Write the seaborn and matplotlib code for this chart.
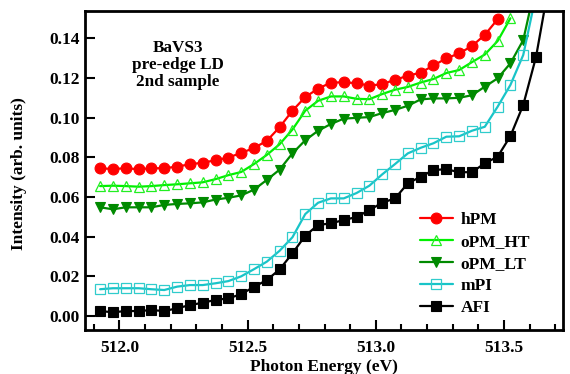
import matplotlib
matplotlib.use("Agg")
import matplotlib.pyplot as plt
import seaborn as sns
from matplotlib.ticker import MultipleLocator, FormatStrFormatter

# Photon energies (eV) of the measured points
energy = [511.925, 511.975, 512.025, 512.075, 512.125, 512.175, 512.225, 512.275,
          512.325, 512.375, 512.425, 512.475, 512.525, 512.575, 512.625, 512.675,
          512.725, 512.775, 512.825, 512.875, 512.925, 512.975, 513.025, 513.075,
          513.125, 513.175, 513.225, 513.275, 513.325, 513.375, 513.425, 513.475,
          513.525, 513.575, 513.625, 513.675]

hpm = [0.0745, 0.0741, 0.0745, 0.0740, 0.0745, 0.0745, 0.0753, 0.0765, 0.0773, 0.0785,
       0.0799, 0.0822, 0.0847, 0.0883, 0.0952, 0.1035, 0.1104, 0.1146, 0.1177, 0.1178,
       0.1174, 0.1161, 0.1169, 0.1191, 0.1211, 0.1227, 0.1263, 0.1299, 0.1324, 0.1361,
       0.1417, 0.1496]

opm_ht = [0.0655, 0.0657, 0.0655, 0.0652, 0.0655, 0.0660, 0.0664, 0.0669, 0.0674, 0.0690,
          0.0710, 0.0726, 0.0766, 0.0812, 0.0866, 0.0940, 0.1035, 0.1085, 0.1107, 0.1107,
          0.1095, 0.1093, 0.1119, 0.1141, 0.1155, 0.1177, 0.1195, 0.1225, 0.1240, 0.1280,
          0.1318, 0.1386, 0.1501]

opm_lt = [0.0548, 0.0538, 0.0548, 0.0548, 0.0548, 0.0560, 0.0565, 0.0568, 0.0573, 0.0587,
          0.0596, 0.0608, 0.0637, 0.0686, 0.0738, 0.0820, 0.0886, 0.0934, 0.0968, 0.0995,
          0.0999, 0.1003, 0.1023, 0.1039, 0.1060, 0.1092, 0.1097, 0.1097, 0.1100, 0.1113,
          0.1156, 0.1198, 0.1274, 0.1391, 0.1680]

mpi = [0.0135, 0.0140, 0.0140, 0.0140, 0.0135, 0.0131, 0.0148, 0.0156, 0.0156, 0.0165,
       0.0176, 0.0200, 0.0236, 0.0274, 0.0329, 0.0397, 0.0514, 0.0571, 0.0593, 0.0593,
       0.0620, 0.0657, 0.0714, 0.0766, 0.0820, 0.0848, 0.0871, 0.0904, 0.0906, 0.0934,
       0.0954, 0.1055, 0.1165, 0.1316, 0.1620]

afi = [0.0025, 0.0019, 0.0025, 0.0025, 0.0030, 0.0025, 0.0039, 0.0055, 0.0067, 0.0081,
       0.0089, 0.0110, 0.0147, 0.0181, 0.0235, 0.0316, 0.0405, 0.0459, 0.0467, 0.0484,
       0.0499, 0.0534, 0.0571, 0.0593, 0.0669, 0.0702, 0.0736, 0.0740, 0.0725, 0.0725,
       0.0770, 0.0803, 0.0907, 0.1064, 0.1307, 0.1670]

labels = ["hPM", "oPM_HT", "oPM_LT", "mPI", "AFI"]
series = [hpm, opm_ht, opm_lt, mpi, afi]

styles = {
    "hPM":    dict(color="#FF0000", marker="o", mfc="#FF0000", mec="#FF0000", mew=0.8),
    "oPM_HT": dict(color="#00F000", marker="^", mfc="none",    mec="#22EE22", mew=0.9),
    "oPM_LT": dict(color="#008A00", marker="v", mfc="#008A00", mec="#008A00", mew=0.8),
    "mPI":    dict(color="#18C4C8", marker="s", mfc="none",    mec="#30CCCC", mew=0.9),
    "AFI":    dict(color="#000000", marker="s", mfc="#000000", mec="#000000", mew=0.8),
}

sns.set_theme(style="white")
plt.rcParams["font.family"] = ["Liberation Serif", "DejaVu Serif"]
plt.rcParams["font.weight"] = "bold"
plt.rcParams["text.color"] = "black"
plt.rcParams["axes.labelcolor"] = "black"
plt.rcParams["xtick.color"] = "black"
plt.rcParams["ytick.color"] = "black"

fig = plt.figure(figsize=(5.7, 3.74), dpi=100)
ax = fig.add_axes([0.1491, 0.1176, 0.8386, 0.8537])

for name, vals in zip(labels, series):
    st = styles[name]
    sns.lineplot(x=energy[:len(vals)], y=vals, ax=ax, color=st["color"], lw=1.6,
                 marker=st["marker"], markersize=7.8, markerfacecolor=st["mfc"],
                 markeredgecolor=st["mec"], markeredgewidth=st["mew"],
                 label=name, sort=False, estimator=None)

ax.set_xlim(511.866, 513.730)
ax.set_ylim(-0.00706, 0.1539)

ax.xaxis.set_major_locator(MultipleLocator(0.5))
ax.xaxis.set_minor_locator(MultipleLocator(0.1))
ax.yaxis.set_major_locator(MultipleLocator(0.02))
ax.xaxis.set_major_formatter(FormatStrFormatter("%.1f"))
ax.yaxis.set_major_formatter(FormatStrFormatter("%.2f"))

ax.tick_params(axis="both", which="major", direction="in", length=7.5, width=1.5,
               labelsize=12.5, colors="black", top=False, right=False,
               bottom=True, left=True)
ax.tick_params(axis="x", which="major", pad=7)
ax.tick_params(axis="y", which="major", pad=4)
ax.tick_params(axis="x", which="minor", direction="in", length=4, width=1.5,
               bottom=True, top=False, colors="black")
for lab in ax.get_xticklabels() + ax.get_yticklabels():
    lab.set_fontweight("bold")
    lab.set_color("black")

for sp in ax.spines.values():
    sp.set_color("black")
    sp.set_linewidth(2.0)

ax.set_xlabel("Photon Energy (eV)", fontsize=12.5, fontweight="bold", labelpad=2,
              color="black")
ax.set_ylabel("Intensity (arb. units)", fontsize=12.5, fontweight="bold",
              color="black")
ax.yaxis.set_label_coords(-0.121, 0.49)

fig.text(178 / 570, 1 - 65 / 374, "BaVS3\npre-edge LD\n2nd sample",
         ha="center", va="center", multialignment="center", color="black",
         fontsize=12.3, fontweight="bold", linespacing=1.05)

leg = ax.legend(loc="upper left", bbox_to_anchor=(420 / 570, 1 - 212 / 374),
                bbox_transform=fig.transFigure, frameon=False,
                fontsize=12.5, handlelength=1.9, handletextpad=0.45,
                labelspacing=0.34, borderpad=0, borderaxespad=0)
for t in leg.get_texts():
    t.set_fontweight("bold")
    t.set_color("black")

fig.savefig("out.png", dpi=100)
